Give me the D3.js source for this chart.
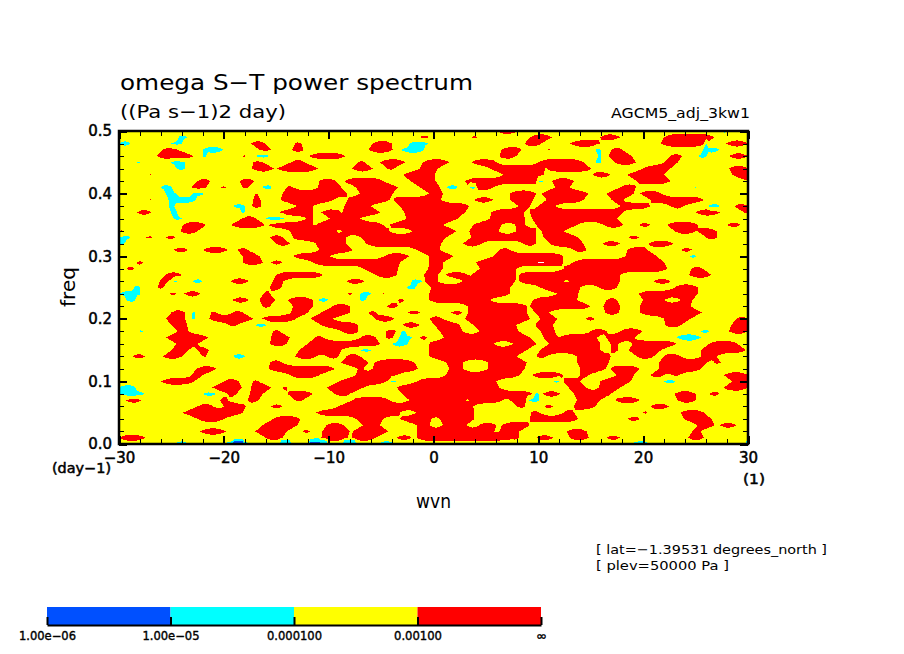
<!DOCTYPE html>
<html>
<head>
<meta charset="utf-8">
<script src="https://cdn.jsdelivr.net/npm/d3@7"></script>
<style>
  body { margin: 0; background: #fff; }
  text { font-family: "DejaVu Sans", sans-serif; fill: #000; }
  .tick text { font-size: 15px; stroke: #000; stroke-width: 0.5px; }
</style>
</head>
<body>
<svg id="chart" width="904" height="654"></svg>
<script>
// red areas (power above 1e-3): one row per 0.01 of freq, from 0.00 to 0.50, each a list of wvn spans
var redSpans = [
  [],
  [[-30,-27.5],[-16,-14.4],[-10.7,-8.2],[-7.8,-5.5],[-3.5,-2.1],[-1.6,8.2],[9.8,11.4],[13,14.8],[16.5,17.8],[24.3,25.8]],
  [[-22.3,-19.8],[-17,-14],[-12.5,-11.8],[-10.6,-8],[-7.7,-4.3],[-1.6,5.8],[6.3,8.2],[12.7,14.6],[24.7,25.5]],
  [[-16.3,-13],[-10.2,-8.6],[-6.7,-5.1],[-1.6,-0.4],[0.9,3.1],[4.4,6],[6.5,9.2],[25.2,26.8],[27.3,28.9]],
  [[-22.5,-20],[-15.3,-12.7],[-7.4,-4.8],[-3.2,-0.2],[0.6,3.9],[9.2,13.8],[18.5,19.7],[23.9,26.5]],
  [[-23.9,-18.2],[-11.2,-3.2],[-1.6,3.9],[9.3,10.1],[12.4,13.4],[20,20.4],[23.6,25.8]],
  [[-22.5,-21],[-20,-17.9],[-15.5,-14.4],[-9.1,3.8],[8,8.7],[10.6,11.4],[13.4,15.4],[20.7,22.5]],
  [[-29.4,-27.8],[-20.4,-19.6],[-17.7,-16.7],[-13.2,-12.5],[-7.7,-4.2],[-2.3,3],[3.4,6.6],[7.3,9.2],[13.7,15.9],[17.3,19.7],[23.3,25]],
  [[-19.6,-18.8],[-17.5,-16.3],[-13.9,-11.5],[-9.4,-8],[-3,9.5],[10.4,12.1],[13.4,16.9],[23,25],[26.3,27.3]],
  [[-21.2,-18.3],[-17.4,-15.5],[-14.4,-13.9],[-10.2,-6.7],[-3.5,6.3],[12.9,14.6],[15.8,17.8],[27.7,30]],
  [[-26,-22.8],[-20,-18.6],[-17.2,-16.7],[-9,-4.5],[-1.6,6],[12.4,14],[15.9,18.8],[28.5,30]],
  [[-23.1,-22],[-13.7,-10.9],[-7.4,-3.5],[1.2,8.2],[9.4,12.4],[14,14.8],[17.5,19.1],[20.7,22],[22.8,23.4],[27.7,30]],
  [[-22.6,-20.7],[-15.7,-9.4],[-7.2,-6.7],[-5.8,-1.5],[1.5,2.8],[5.2,8.7],[14,16.4],[16.9,19.7],[21.5,25.5]],
  [[-15.6,-14.4],[-8.8,-6.2],[-5.6,-1.8],[1.2,2.8],[5.2,8.9],[13.7,16.7],[21.5,26.1],[26.8,27.4]],
  [[-28.7,-27.5],[-25.8,-24],[-22,-21.7],[-13.2,-11.2],[-10.2,-9.1],[-8.3,-7],[-0.4,7.9],[9.8,10.8],[13.7,16.9],[19.4,21],[22,23.6],[25.5,27]],
  [[-25,-23.4],[-22.5,-21.4],[-12.8,-8.8],[-0.4,2.5],[2.8,8.9],[10.2,15.9],[16.9,17.6],[18.6,21.7],[25.5,29.8]],
  [[-24.5,-22.5],[-15.6,-14],[-12,-5.1],[-0.4,5.7],[7.6,9.8],[11,15.9],[16.9,17.6],[19,23.2],[26.3,29]],
  [[-25.5,-21.5],[-15.5,-13.7],[-11.3,-10.5],[-6.9,-5.5],[-4.5,-3.9],[-1.3,-0.6],[1,9.2],[10.5,11.8],[12,15.6],[16.5,19.2]],
  [[-24.4,-23.4],[-15.3,-14.7],[-8.8,-7.2],[-4.5,-3.6],[0.6,2.8],[4.4,8.1],[10.2,11.6],[15,16.5],[17.8,19.9],[28.2,30]],
  [[-25,-23.5],[-19.5,-18.8],[-10.7,-7.2],[-3,-1.3],[0.1,2.5],[3.8,7.9],[9.7,11.4],[22.1,23.6],[28.4,30]],
  [[-25.5,-23.7],[-21.4,-17.2],[-16.4,-13.1],[-11.7,-9.6],[-5.6,-3.7],[-0.4,0.9],[3,9.2],[10.2,11.8],[14.5,15.4],[22,24.5],[28.9,30]],
  [[-30,-29.8],[-25,-23.7],[-21.2,-20.7],[-19.1,-18.2],[-13.6,-12],[-10.7,-8],[-6.2,-5.5],[-2.4,-1.3],[1.7,2.7],[3.3,8.9],[9.7,11],[16.4,17.7],[19.7,25.6]],
  [[-16.3,-15.6],[-13.4,-11.5],[-9.6,-8],[-4.5,-3.4],[3.3,8.9],[9.2,15],[16.2,17.8],[19.7,24.5]],
  [[-19.2,-17.6],[-16.6,-15.1],[-13.9,-11.5],[-3.4,-2.8],[-0.4,5.4],[9.5,13.7],[16.5,17.5],[20,22],[23.6,24.7]],
  [[-25.2,-24.5],[-23.8,-22.2],[-16.2,-15.6],[-8.2,-7.7],[-5,-4.7],[-0.4,7.3],[11.8,13.8],[19.6,25.2]],
  [[-26.3,-25.8],[-15.6,-14.5],[-0.2,7.3],[10.2,14],[15.8,17.5],[23,25.2]],
  [[-26.1,-25.3],[-19.4,-17.6],[-15.3,-14.3],[-8.3,-6.6],[-0.9,0.4],[2.8,7.8],[8.2,12.4],[13,17.8],[21,22.6]],
  [[-25.6,-24],[-15,-10.5],[-5.5,-3.5],[-0.9,0.4],[1.2,3.3],[3.6,7.9],[8.2,17.8],[24.4,26.5]],
  [[-29.3,-28.5],[-6.7,-3.4],[-0.5,0.9],[4.4,7.9],[12.4,22.3],[24.6,25.7]],
  [[-28.3,-27.7],[-18.2,-16.3],[-15.5,-14.4],[-11.5,-3.2],[-0.4,0.9],[4.1,12.4],[13.3,22]],
  [[-18.2,-16.6],[-13.4,-9.9],[-4.7,-2.3],[-0.4,1.9],[5.7,12.4],[18.3,21.3],[29.7,30]],
  [[-24.8,-23.4],[-22,-19.6],[-18.7,-17.7],[-10.9,-7.7],[-1.6,0.6],[6.3,7.3],[13.4,14.6],[18.5,20.4],[23.6,24.7]],
  [[-15,-13.7],[-11.2,-8.3],[-6.4,0.7],[2.8,4.6],[8.6,9.8],[11.1,14.3],[16.1,17.8],[20.5,22.9]],
  [[-27.4,-26.8],[-25.5,-24.6],[-15.6,-14.4],[-13.4,-8.3],[-6.9,1.2],[3.6,9.8],[10.5,13.8],[18.6,19.6],[26,27.1]],
  [[-30,-29.6],[-24.1,-22.5],[-13.7,-9.3],[-8.7,-4.2],[-2,2.2],[3.4,6.2],[7.9,9.8],[10.3,12.4],[23,25],[25.2,27]],
  [[-23.9,-21.7],[-19.3,-16.1],[-15.8,-11.5],[-11.2,-4.8],[-4.2,0.9],[3.8,6.5],[7.8,8.7],[9.8,13.7],[16.2,18.1],[19.6,20.7],[22.3,25.2],[28,29.3]],
  [[-18.3,-16.9],[-12.1,-11.5],[-9.9,-7],[-2.6,2.3],[5.4,8.7],[9.4,17.5]],
  [[-28.3,-26.9],[-14.7,-11.5],[-10.7,-8.8],[-8.6,-5.1],[-2.8,3],[5.5,8.6],[9.2,18.1],[25,27.4],[29.6,30]],
  [[-17.3,-16.4],[-13,-11.5],[-8.5,-6],[-3.2,3.4],[8.1,9.2],[10,11.6],[17.8,20.7],[22.6,23.9],[28.7,30]],
  [[-27.1,-26.9],[-17.2,-16.5],[-14.6,-9.6],[-8.2,-4.2],[-3.8,0.7],[3.9,5.7],[7.3,9.5],[10.8,14.3],[17,18.1],[20.7,25.8]],
  [[-17,-16.8],[-14.4,-8.2],[-7,-3.9],[-0.4,0.9],[7.3,9.8],[10.3,14.8],[16.5,19.1],[19.7,21.7]],
  [[-23.1,-21.7],[-20.3,-19.8],[-18.2,-17.7],[-14,-13.4],[-11,-8.8],[-7.4,-3.4],[-1.3,0.6],[3.4,5.7],[11.6,13],[17.8,19.3]],
  [[-22.5,-21.3],[-18.5,-17.1],[-10.9,-9.3],[-8.5,-4.8],[-2.2,0.2],[3,10.5],[11.3,13.4],[19.4,22.6],[29.8,30]],
  [[-27.1,-26.9],[-2.9,0.1],[6.7,10.5],[15.2,16.9],[18.5,22],[28.5,30]],
  [[-17.3,-15.2],[-14.9,-11],[-7.8,-5.8],[-4.4,-3.8],[-1.3,0.4],[5.4,10.6],[10.8,15],[20,22.6],[28.2,30]],
  [[-17.2,-16.3],[-13.6,-12.3],[-7.2,-6.6],[-5.1,-2.7],[-1,1.5],[3.6,6],[10,14.3],[17.3,19.3],[22,23.3]],
  [[-26.4,-22.9],[-18.3,-17.9],[-11.8,-8.4],[6.3,7.9],[16.7,18.9],[22.6,23.7],[28.2,30]],
  [[-25.8,-24.4],[-16.6,-15.5],[-13.5,-12.4],[-6.2,-3.9],[6.5,8.4],[10.9,11.2],[17,18]],
  [[-17.4,-16.1],[-13.2,-12.6],[-5.8,-4],[8.7,10.3],[13,15.9],[21.7,26],[27.9,30]],
  [[-11.9,-11.7],[-1.3,-0.4],[3.6,4.2],[9.2,11.3],[15.9,17.8],[22,26.8]],
  [[6,8.1],[29.2,30]]
];

// cyan areas (1e-5 to 1e-4) as freq, wvn from, wvn to
var cyanSpans = [
  [0,-24.8,-23.3],[0,-20,-17.5],[0,-5.5,-3.4],[0,6.5,7.6],[0,11.8,12.4],[0,18.8,20.7],[0,29.5,30],
  [0.01,-11.3,-11],[0.07,9,10.2],[0.08,-30,-27.5],[0.08,-22,-20.7],[0.08,9.7,10.2],
  [0.09,-30,-28.3],[0.1,-4.2,-3.5],[0.1,11.5,12.1],[0.1,22,23.2],
  [0.14,-19.2,-17.9],[0.15,-7,-5.9],[0.16,-4,-2.4],[0.17,-3.4,-2],[0.17,23.1,25.5],[0.18,-28.2,-27.7],
  [0.18,-3.1,-2.6],[0.18,25.5,26.3],[0.19,-17,-15.9],[0.2,-23.1,-22.6],[0.21,-23,-22.7],
  [0.23,-29.3,-28.3],[0.23,-11,-10],[0.23,-7,-6.5],[0.24,-30,-27.9],[0.24,-7,-5.9],
  [0.25,-28.7,-27.9],[0.25,-2.6,-1.6],[0.26,-24.9,-24.3],[0.26,-23,-22],[0.26,-2.2,-1],
  [0.3,24.4,25.2],[0.31,27.8,28.2],[0.32,-30,-29.5],[0.33,-30,-28.8],
  [0.36,-24.8,-24],[0.36,-16,-14.2],[0.37,-25.2,-24.4],[0.37,-18.4,-18],[0.38,-25.3,-24.7],
  [0.38,-19.1,-18],[0.38,26.1,27.4],[0.39,-25.3,-22.6],[0.4,-25.6,-24.5],[0.4,-23,-21.8],
  [0.41,-26.1,-24.9],[0.41,-16.4,-15.3],[0.41,1.2,2.4],[0.41,3.4,4.1],[0.41,24.9,25.2],[0.42,10,10.5],
  [0.44,-24.5,-23.7],[0.45,-28.3,-27.9],[0.45,-25.2,-23.7],[0.45,15.3,16],[0.46,-22.1,-21.6],[0.46,-17,-15.6],
  [0.46,15.7,16],[0.46,25.2,26.1],[0.47,-22.1,-20],[0.47,-7.5,-7.2],[0.47,-3.1,-0.8],[0.47,15.4,16],[0.47,25.7,27.3],
  [0.48,-30,-28.8],[0.48,-25,-24],[0.48,-2.3,-0.4],[0.48,25.9,26.2],[0.49,-28.1,-27.8],[0.49,-24.4,-23.5],[0.5,27.4,28.1]
];

// blue areas (1e-6 to 1e-5)
var blueSpans = [[0,-14.5,-13.6],[0,-11.8,-10.2],[0,-8.5,-7.4]];

// missing cells along the bottom edge, and the one gap in the red at freq 0.29
var whiteSpans = [[0,-19.2,-18.2],[0,29.8,30]];
var gapSpans = [[0.29,9.8,10.6]];

var xMajor = d3.range(-30, 31, 10);
var xMinor = d3.range(-30, 31, 2);
var yMajor = [0, 0.1, 0.2, 0.3, 0.4, 0.5];
var yMinor = d3.range(0, 26).map(function(i) { return i * 0.02; });

var levelLabels = ["1.00e\u221206", "1.00e\u221205", "0.000100", "0.00100", "\u221e"];
var levelFills = ["#0050ff", "#00ffff", "#ffff00", "#ff0000"];
// decades on the field scale below, one per fill
var levelThresholds = [0.5, 1.5, 2.5, 3.5];

var wvnStep = 0.25, freqStep = 0.01;
var plot = { left: 119, right: 748, top: 131, bottom: 444 };

var x = d3.scaleLinear().domain([-30, 30]).range([plot.left, plot.right]);
var y = d3.scaleLinear().domain([0, 0.5]).range([plot.bottom, plot.top]);

// how far inside the nearest span a wvn sits, negative when outside
function depth(w, spans) {
  var d = -Infinity;
  spans.forEach(function(s) { d = Math.max(d, Math.min(w - s[0], s[1] - w)); });
  return d;
}

function clamp(v) { return Math.max(-0.5, Math.min(0.5, v)); }

function overlaid(list, row) {
  return list.filter(function(s) { return Math.round(s[0] / freqStep) === row; })
             .map(function(s) { return [s[1], s[2]]; });
}

var wvns = d3.range(0, 241).map(function(i) { return -30 + i * wvnStep; });
var field = [], gapField = [];
redSpans.forEach(function(spans, row) {
  var cyan = overlaid(cyanSpans, row), blue = overlaid(blueSpans, row);
  var white = overlaid(whiteSpans, row), gap = overlaid(gapSpans, row);
  wvns.forEach(function(w) {
    var v = 3.5 + clamp(depth(w, spans) * 0.5);
    var c = depth(w, cyan);
    if (c >= 0) v = Math.min(v, 2.5 - clamp(c * 0.5));
    if (depth(w, blue) >= 0) v = 1;
    if (depth(w, white) >= 0) v = 0;
    field.push(v);
    gapField.push(depth(w, gap) >= 0 ? 1 : 0);
  });
});

var svg = d3.select("#chart");
svg.append("defs").append("clipPath").attr("id", "plot-clip").append("rect")
  .attr("x", plot.left).attr("y", plot.top)
  .attr("width", plot.right - plot.left).attr("height", plot.bottom - plot.top);

var contourMaker = d3.contours().size([wvns.length, redSpans.length]);
var contours = contourMaker.thresholds(levelThresholds)(field);
var path = d3.geoPath(d3.geoTransform({
  point: function(cx, cy) {
    this.stream.point(x(-30 + (cx - 0.5) * wvnStep), y((cy - 0.5) * freqStep));
  }
}));

var shaded = svg.append("g").attr("clip-path", "url(#plot-clip)");
shaded.selectAll("path").data(contours).enter().append("path")
  .attr("d", path)
  .attr("fill", function(d, i) { return levelFills[i]; })
  .attr("shape-rendering", "crispEdges");
shaded.append("path")
  .attr("d", path(contourMaker.thresholds([0.9])(gapField)[0]))
  .attr("fill", "#fff")
  .attr("shape-rendering", "crispEdges");

// all four sides carry inward ticks, only bottom and left get labels
function addAxis(maker, translate, values, size, width, fmt) {
  var axis = maker.tickValues(values).tickSizeInner(-size).tickSizeOuter(0).tickFormat(fmt || "");
  var g = svg.append("g").attr("transform", translate).call(axis);
  g.select(".domain").remove();
  g.selectAll(".tick line").attr("stroke", "#000").attr("stroke-width", width).attr("shape-rendering", "crispEdges");
  return g;
}

var bottomAt = "translate(0," + plot.bottom + ")", topAt = "translate(0," + plot.top + ")";
var leftAt = "translate(" + plot.left + ",0)", rightAt = "translate(" + plot.right + ",0)";

addAxis(d3.axisBottom(x), bottomAt, xMinor, 5, 1);
addAxis(d3.axisTop(x), topAt, xMinor, 5, 1);
addAxis(d3.axisLeft(y), leftAt, yMinor, 5, 1);
addAxis(d3.axisRight(y), rightAt, yMinor, 5, 1);
addAxis(d3.axisTop(x), topAt, xMajor, 8, 2);
addAxis(d3.axisRight(y), rightAt, yMajor, 8, 2);

var xLabels = addAxis(d3.axisBottom(x), bottomAt, xMajor, 8, 2, d3.format("d"));
xLabels.selectAll("text").attr("y", 8).attr("dy", "0.71em");
var yLabels = addAxis(d3.axisLeft(y), leftAt, yMajor, 8, 2, d3.format(".1f"));
yLabels.selectAll("text").attr("x", -7);

svg.append("rect")
  .attr("x", plot.left).attr("y", plot.top)
  .attr("width", plot.right - plot.left).attr("height", plot.bottom - plot.top)
  .attr("fill", "none").attr("stroke", "#000").attr("stroke-width", 2.5);

function label(txt, px, py, size, width, opts) {
  opts = opts || {};
  var t = svg.append("text").attr("x", px).attr("y", py).attr("font-size", size).text(txt)
    .attr("textLength", width).attr("lengthAdjust", "spacingAndGlyphs");
  if (opts.heavy) t.attr("stroke", "#000").attr("stroke-width", 0.5);
  if (opts.rotate) t.attr("transform", "rotate(-90 " + px + " " + py + ")");
  return t;
}

label("omega S\u2212T power spectrum", 120, 90, 21, 353);
label("((Pa s\u22121)2 day)", 120, 118, 18, 166);
label("AGCM5_adj_3kw1", 611, 118, 14, 139);
label("(day\u22121)", 52, 473, 14, 59, { heavy: true });
label("(1)", 743, 484, 14, 22, { heavy: true });
label("wvn", 416, 508, 19, 35);
label("freq", 75, 307, 19, 40, { rotate: true });
label("[ lat=\u22121.39531 degrees_north ]", 596, 554, 13, 231);
label("[ plev=50000 Pa ]", 596, 570, 13, 133);

// colour key under the plot
var barLeft = 47, barRight = 541, barTop = 607, barBottom = 625;
var key = d3.scalePoint().domain(levelLabels).range([barLeft, barRight]);

svg.selectAll(".key-box").data(levelFills).enter().append("rect")
  .attr("class", "key-box")
  .attr("x", function(d, i) { return key(levelLabels[i]); })
  .attr("y", barTop)
  .attr("width", key.step())
  .attr("height", barBottom - barTop)
  .attr("fill", function(d) { return d; });

var keyAxis = d3.axisBottom(key).tickSizeInner(-8).tickSizeOuter(0).tickPadding(-4);
var keyG = svg.append("g").attr("transform", "translate(0," + barBottom + ")").call(keyAxis);
keyG.select(".domain").attr("stroke", "#000").attr("stroke-width", 2);
keyG.selectAll(".tick line").attr("stroke", "#000").attr("stroke-width", 2);
keyG.selectAll(".tick text")
  .attr("y", 15)
  .attr("dy", "0")
  .style("font-size", "12px")
  .style("stroke-width", "0.4px")
  .attr("textLength", function(d) { return d === "\u221e" ? 11 : (d === "0.00100" ? 48 : (d === "0.000100" ? 55 : 57)); })
  .attr("lengthAdjust", "spacingAndGlyphs");
</script>
</body>
</html>
